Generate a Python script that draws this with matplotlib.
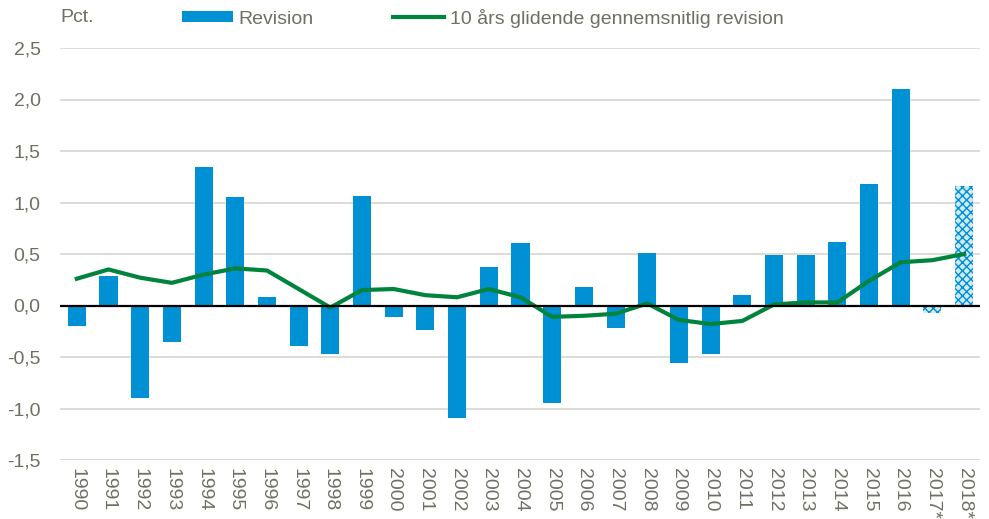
import matplotlib
matplotlib.use('Agg')
import matplotlib.pyplot as plt
import numpy as np

plt.rcParams['font.family'] = ['Liberation Sans Narrow', 'Liberation Sans', 'DejaVu Sans']
plt.rcParams['hatch.linewidth'] = 1.0

# data
years = ['1990', '1991', '1992', '1993', '1994', '1995', '1996', '1997', '1998', '1999',
         '2000', '2001', '2002', '2003', '2004', '2005', '2006', '2007', '2008', '2009',
         '2010', '2011', '2012', '2013', '2014', '2015', '2016', '2017*', '2018*']
revision = [-0.20, 0.29, -0.90, -0.35, 1.34, 1.05, 0.08, -0.39, -0.47, 1.06,
            -0.11, -0.24, -1.09, 0.37, 0.61, -0.95, 0.18, -0.22, 0.51, -0.56,
            -0.47, 0.10, 0.49, 0.49, 0.62, 1.18, 2.10, -0.07, 1.16]
avg10 = [0.26, 0.35, 0.27, 0.22, 0.30, 0.36, 0.34, 0.16, -0.02, 0.15,
         0.16, 0.10, 0.08, 0.16, 0.08, -0.11, -0.10, -0.08, 0.02, -0.14,
         -0.18, -0.15, 0.01, 0.03, 0.03, 0.24, 0.42, 0.44, 0.50]
n_forecast = 2  # sidste to aar er skoen

blue = '#0090d4'
green = '#00843d'
txt = '#6f6f62'

fig = plt.figure(figsize=(9.89, 5.19), dpi=100)
ax = fig.add_axes([60/989, 59/519, 920/989, 412/519])

x = np.arange(len(years))
n_act = len(years) - n_forecast
bars = ax.bar(x[:n_act], revision[:n_act], width=0.57, color=blue, zorder=2)
ax.bar(x[n_act:], revision[n_act:], width=0.57, color='#cfe9f7', edgecolor=blue,
       hatch='xxxx', linewidth=0, zorder=2)
line, = ax.plot(x, avg10, color=green, lw=3, zorder=3)

ax.axhline(0, color='black', lw=1.6, zorder=4)

ax.set_ylim(-1.5, 2.5)
ax.set_xlim(-0.53, len(years) - 0.5)
yt = np.arange(-1.5, 2.51, 0.5)
ax.set_yticks(yt)
ax.set_yticklabels([f'{v:.1f}'.replace('.', ',') for v in yt])
ax.set_xticks(x)
ax.set_xticklabels(years, rotation=-90, va='top', ha='center')
ax.grid(axis='y', color='#d3d2ca', lw=1.1, zorder=0)
ax.set_axisbelow(True)
for s in ax.spines.values():
    s.set_visible(False)
ax.tick_params(axis='both', length=0, colors=txt, labelsize=14)
ax.tick_params(axis='y', pad=14)
ax.tick_params(axis='x', pad=6)

fig.text(60/989, 1 - 18/519, 'Pct.', color=txt, fontsize=14, va='center', ha='left')
leg = fig.legend([bars, line], ['Revision', '10 års glidende gennemsnitlig revision'],
                 loc='center left', bbox_to_anchor=(182/989, 1 - 18/519), ncol=2,
                 frameon=False, fontsize=14, handlelength=2.6, handleheight=0.55,
                 columnspacing=4.1, handletextpad=0.3, borderaxespad=0, borderpad=0)
for t in leg.get_texts():
    t.set_color(txt)

plt.savefig('out.png', dpi=100)
